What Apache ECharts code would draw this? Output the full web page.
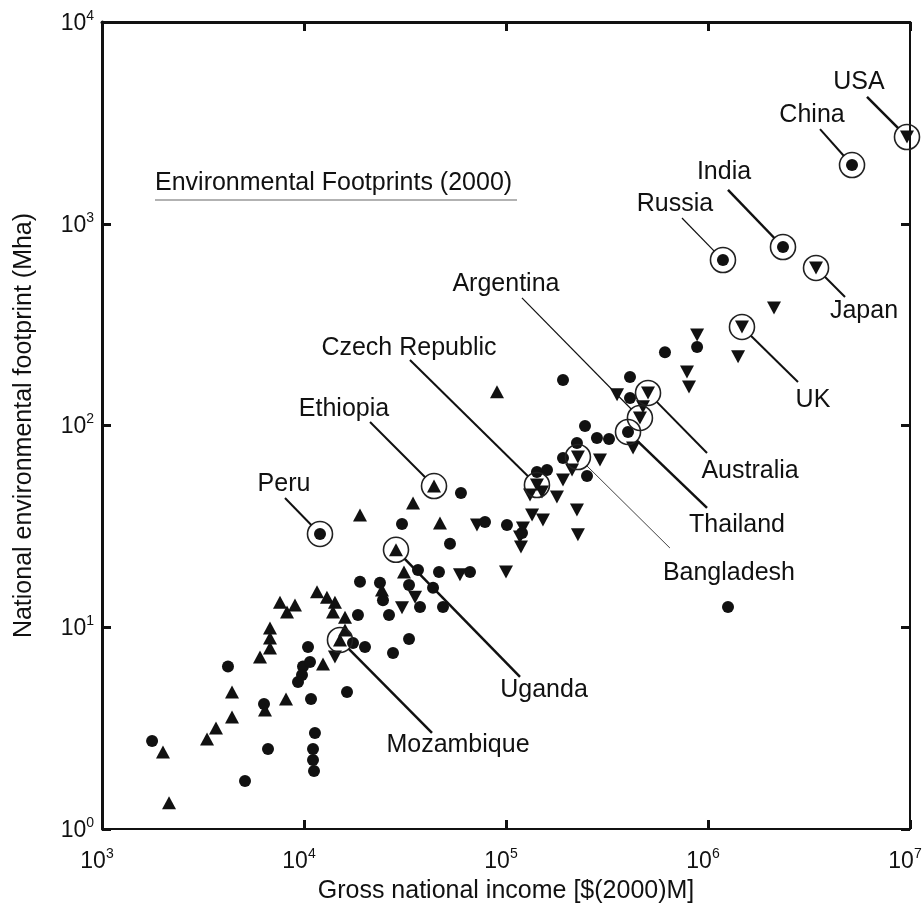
<!DOCTYPE html>
<html><head><meta charset="utf-8">
<script src="https://cdn.jsdelivr.net/npm/echarts@6/dist/echarts.min.js"></script>
<style>html,body{margin:0;padding:0;background:#fff}#c{width:924px;height:908px}</style>
</head><body><div id="c"></div>
<script>
// Gross national income [$(2000)M] vs national environmental footprint (Mha)
const circlePoints = [[10470,7.98],[4204,6.39],[9887,6.39],[10710,6.72],[9775,5.80],[9340,5.35],[10830,4.41],[6339,4.17],[16330,4.78],[1770,2.73],[6635,2.49],[5105,1.73],[11330,2.99],[11080,2.49],[11080,2.20],[11210,1.94],[59850,46.3],[30560,32.5],[78730,33.2],[101100,32.1],[52810,25.9],[36670,19.2],[46580,18.8],[66340,18.8],[18930,16.8],[23770,16.6],[24600,13.6],[33110,16.2],[43530,15.7],[37530,12.6],[48760,12.6],[26360,11.5],[18500,11.5],[20040,7.98],[17480,8.35],[27580,7.45],[33110,8.74],[883100,245],[612300,231],[411100,174],[411100,137],[246100,99.4],[281900,86.7],[323600,85.7],[224500,81.9],[191500,69.0],[251800,56.2],[142300,58.8],[159600,60.1],[120000,29.3],[191500,168],[1256000,12.6]];
const upPoints = [[11600,15.0],[12990,14.1],[14230,13.3],[7606,13.3],[9023,12.9],[8240,11.9],[13920,11.9],[15960,11.2],[6786,9.92],[6786,8.85],[6786,7.89],[6056,7.12],[4402,4.78],[8147,4.41],[4402,3.59],[3667,3.17],[3311,2.79],[2004,2.41],[2147,1.35],[6410,3.89],[12420,6.58],[15960,9.69],[34660,41.3],[18930,36.0],[47120,32.9],[31260,18.8],[24320,15.3],[90240,147]];
const downPoints = [[14230,7.12],[71820,32.1],[121300,31.0],[134600,36.0],[152400,34.0],[117300,28.0],[118600,25.0],[59160,18.2],[100000,18.8],[35460,14.1],[30560,12.5],[883100,281],[1409000,219],[787000,184],[805300,155],[354600,142],[476400,124],[425600,77.3],[291900,67.4],[212300,60.1],[191500,53.7],[131500,45.2],[178700,44.2],[150700,46.8],[224500,38.1],[227000,28.7],[2122000,382]];

const countryNames = ['USA','China','India','Russia','Japan','UK','Australia','Thailand','Bangladesh','Argentina','Czech Republic','Ethiopia','Peru','Uganda','Mozambique'];
const countryGNI   = [9663000,5164000,2351000,1186000,3426000,1473000,504700,401800,227000,460300,142300,44020,12000,28540,15070];
const countryFP    = [2692,1954,767,661,604,308,145,92.9,69.8,109,50.7,50.1,29.0,24.2,8.65];
const countryShape = ['down','circle','circle','circle','down','down','down','circle','down','down','down','up','circle','up','up'];

const xTicks = [1e3,1e4,1e5,1e6,1e7];
const yTicks = [1,10,100,1000,10000];
const chartTitle = 'Environmental Footprints (2000)';

// annotation layout (pixel offsets from the marked point): label centre, leader-line far end, line width
const annot = {
  'USA':[[-48,-55],[-40,-40],2.5],
  'China':[[-40,-50],[-32,-36],2],
  'India':[[-59,-75],[-55,-57],2.5],
  'Russia':[[-48,-56],[-41,-42],1.2],
  'Japan':[[48,43],[29,29],2],
  'UK':[[71,73],[56,55],2],
  'Australia':[[102,78],[59,60],2],
  'Thailand':[[109,93],[79,76],2.5],
  'Bangladesh':[[151,116],[92,91],0.8],
  'Argentina':[[-134,-134],[-118,-120],1.2],
  'Czech Republic':[[-128,-137],[-127,-125],2],
  'Ethiopia':[[-90,-77],[-64,-64],2],
  'Peru':[[-36,-50],[-35,-36],2],
  'Uganda':[[148,140],[124,127],2.5],
  'Mozambique':[[118,105],[92,93],2.5]
};

const FONT = '"Liberation Sans", Arial, sans-serif';
const INK = '#111';
const chart = echarts.init(document.getElementById('c'), null, {renderer:'canvas'});

function pick(shape){
  const r=[];
  countryNames.forEach((n,i)=>{ if(countryShape[i]===shape) r.push([countryGNI[i],countryFP[i]]); });
  return r;
}
const expLabel = v => '{b|10}{e|' + Math.round(Math.log10(v)) + '}';
const rich = {
  b:{fontSize:23, fontFamily:FONT, color:INK, lineHeight:26, padding:[7,0,0,0], verticalAlign:'bottom'},
  e:{fontSize:14, fontFamily:FONT, color:INK, lineHeight:14, verticalAlign:'top'}
};
const tick = {show:true, inside:true, length:9, lineStyle:{color:INK, width:3}};

const option = {
  animation:false,
  backgroundColor:'#fff',
  grid:{left:102, right:14, top:22, bottom:79, containLabel:false, outerBoundsMode:'none'},
  xAxis:[
    {type:'log', logBase:10, min:xTicks[0], max:xTicks[xTicks.length-1], position:'bottom',
     name:'Gross national income [$(2000)M]', nameLocation:'middle', nameGap:50,
     nameTextStyle:{fontSize:25, fontFamily:FONT, color:INK},
     axisLine:{show:true, onZero:false, lineStyle:{color:INK, width:2}},
     axisTick:tick, minorTick:{show:false}, splitLine:{show:false},
     axisLabel:{formatter:expLabel, rich:rich, margin:18, padding:[0,10,0,0], showMinLabel:true, showMaxLabel:true}},
    {type:'log', logBase:10, min:xTicks[0], max:xTicks[xTicks.length-1], position:'top',
     axisLine:{show:true, onZero:false, lineStyle:{color:INK, width:3}},
     axisTick:tick, splitLine:{show:false}, axisLabel:{show:false}}
  ],
  yAxis:[
    {type:'log', logBase:10, min:yTicks[0], max:yTicks[yTicks.length-1], position:'left',
     name:'National environmental footprint (Mha)', nameLocation:'middle', nameGap:65,
     nameTextStyle:{fontSize:25, fontFamily:FONT, color:INK},
     axisLine:{show:true, onZero:false, lineStyle:{color:INK, width:3}},
     axisTick:tick, splitLine:{show:false},
     axisLabel:{formatter:expLabel, rich:rich, margin:8, showMinLabel:true, showMaxLabel:true}},
    {type:'log', logBase:10, min:yTicks[0], max:yTicks[yTicks.length-1], position:'right',
     axisLine:{show:true, onZero:false, lineStyle:{color:INK, width:2}},
     axisTick:tick, splitLine:{show:false}, axisLabel:{show:false}}
  ],
  series:[
    {type:'scatter', name:'circle', symbol:'circle', symbolSize:12,
     itemStyle:{color:INK, opacity:1}, data:circlePoints.concat(pick('circle')), z:3},
    {type:'scatter', name:'up', symbol:'triangle', symbolSize:[14,13],
     itemStyle:{color:INK, opacity:1}, data:upPoints.concat(pick('up')), z:3},
    {type:'scatter', name:'down', symbol:'triangle', symbolSize:[14,13], symbolRotate:180,
     itemStyle:{color:INK, opacity:1}, data:downPoints.concat(pick('down')), z:3},
    {type:'scatter', name:'ring', symbol:'circle', symbolSize:25,
     itemStyle:{color:'rgba(0,0,0,0)', borderColor:'#222', borderWidth:1.6, opacity:1},
     data:countryNames.map((n,i)=>[countryGNI[i],countryFP[i]]), z:4}
  ]
};
chart.setOption(option);

const els = [];
countryNames.forEach((n,i)=>{
  const p = chart.convertToPixel({xAxisIndex:0, yAxisIndex:0}, [countryGNI[i], countryFP[i]]);
  const a = annot[n];
  const d = Math.hypot(a[1][0], a[1][1]);
  els.push({type:'line', z:10, shape:{x1:p[0]+a[1][0]/d*12.5, y1:p[1]+a[1][1]/d*12.5, x2:p[0]+a[1][0], y2:p[1]+a[1][1]},
            style:{stroke:INK, lineWidth:a[2]}});
  els.push({type:'text', z:10, x:p[0]+a[0][0], y:p[1]+a[0][1],
            style:{text:n, fontSize:25, fontFamily:FONT, fill:INK, align:'center', verticalAlign:'middle'}});
});
els.push({type:'text', z:10, x:155, y:183, style:{text:chartTitle, fontSize:25, fontFamily:FONT, fill:INK, align:'left', verticalAlign:'middle'}});
els.push({type:'line', z:10, shape:{x1:155, y1:200, x2:517, y2:200}, style:{stroke:'#999', lineWidth:1.5}});
chart.setOption({graphic:{elements:els}});
</script></body></html>
